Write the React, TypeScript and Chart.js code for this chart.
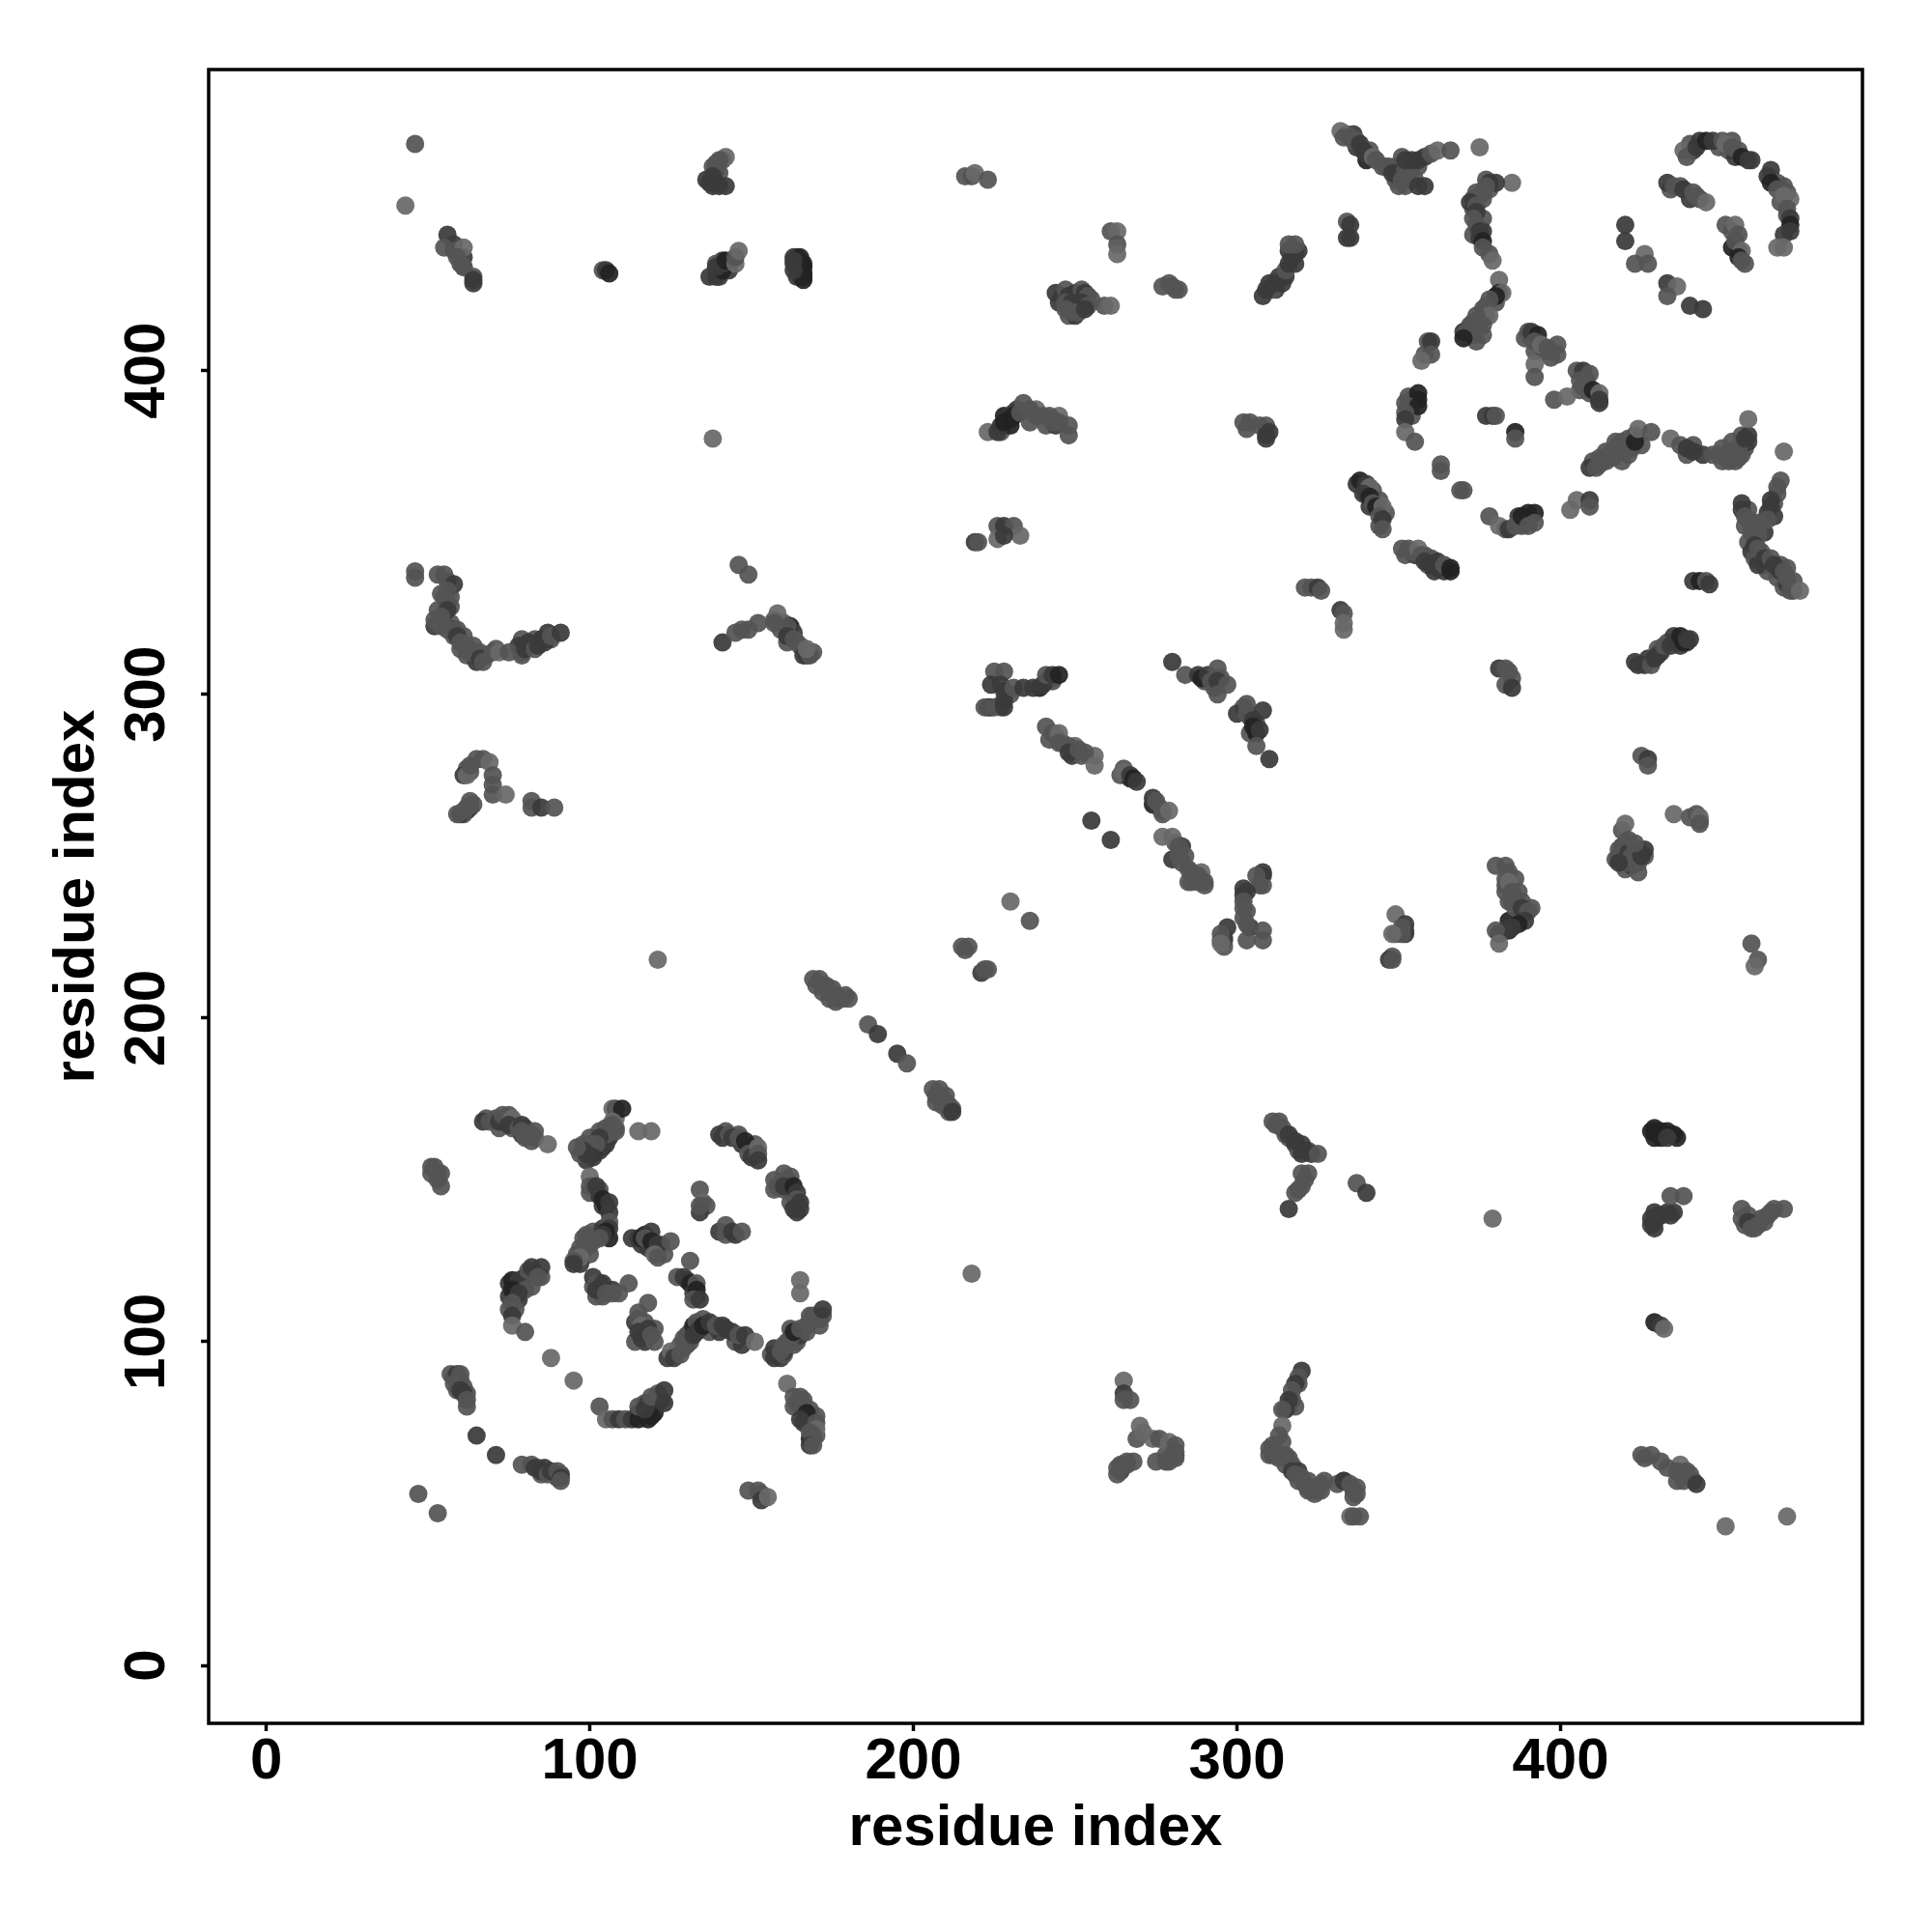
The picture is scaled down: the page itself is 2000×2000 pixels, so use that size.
import React, { useEffect, useRef } from "react";
import { Chart, registerables } from "chart.js";

Chart.register(...registerables);

type P = [number, number, number];

const axisTicks = [0, 100, 200, 300, 400];
const axisLabel = "residue index";
const shades = ["rgba(104,104,104,0.93)", "rgba(84,84,84,0.93)", "rgba(58,58,58,0.93)", "rgba(34,34,34,0.93)"];

const topLeft: P[] = [[46,470,1],[43,451,0],[56,442,2],[55,438,1],[58,437,1],[61,438,0],[59,435,1],[60,433,1],[61,432,1],[64,429,1],[64,428,2],[64,427,2],[104,431,1],[105,431,2],[106,430,3],[142,466,0],[140,465,1],[139,464,1],[138,463,1],[140,461,1],[138,460,2],[137,458,2],[139,458,2],[140,457,2],[142,457,2],[137,429,2],[139,429,2],[140,430,2],[141,431,3],[139,432,2],[141,433,2],[142,434,3],[145,433,0],[145,435,1],[146,437,0],[163,435,2],[165,435,3],[166,433,3],[165,431,3],[166,430,3],[164,429,2],[166,428,3],[163,431,2],[163,434,2],[138,379,0]];
const topMiddle: P[] = [[216,460,1],[218,460,1],[219,461,0],[223,459,1],[261,443,1],[263,443,0],[263,439,1],[263,436,0],[244,424,2],[247,425,1],[248,423,2],[250,424,2],[252,425,1],[253,424,2],[254,423,1],[247,421,1],[249,421,2],[252,421,2],[254,420,1],[247,419,1],[249,418,1],[251,418,1],[253,419,2],[259,420,1],[261,420,0],[277,426,1],[279,427,1],[280,426,1],[281,425,1],[282,425,1],[308,423,2],[309,425,2],[310,427,2],[312,427,2],[314,427,2],[315,429,2],[315,431,1],[316,433,2],[318,433,2],[317,435,2],[318,436,2],[318,439,1],[316,439,1],[334,446,1],[335,445,2],[334,441,2],[335,441,2]];
const sheetA: P[] = [[332,474,0],[333,472,1],[335,472,1],[336,471,1],[337,471,1],[338,470,2],[339,468,2],[340,467,2],[342,466,0],[343,465,1],[345,463,1],[346,463,1],[348,461,2],[350,461,2],[351,459,1],[352,462,1],[353,459,1],[355,459,1],[356,457,2],[358,457,2],[352,465,2],[354,465,2],[356,465,2],[358,466,2],[360,467,1],[362,468,0],[366,468,1],[375,469,0]];
const sheetB: P[] = [[385,458,0],[380,458,2],[378,458,2],[377,457,1],[376,455,1],[375,454,1],[373,453,1],[372,452,2],[374,451,1],[374,449,2],[373,447,1],[374,445,1],[375,443,2],[375,441,2],[376,440,3],[376,438,1],[378,436,1],[379,434,0],[381,428,0],[381,424,3],[382,424,0],[380,423,3],[378,422,1],[377,420,1],[376,419,1],[378,417,0],[374,417,1],[376,414,1],[371,412,1],[370,410,3],[376,411,1]];
const ringRight: P[] = [[359,409,1],[360,409,2],[360,405,1],[357,403,0],[353,392,1],[356,393,3],[356,391,3],[353,389,1],[356,389,3],[352,387,1],[352,385,2],[352,381,0],[355,378,1],[363,371,1],[363,369,1],[369,363,1],[370,363,1],[378,355,1],[381,352,0],[384,351,2],[386,352,1],[388,352,1],[388,355,3],[390,356,3],[392,356,3],[392,353,1],[390,352,1],[403,357,0],[405,360,0],[409,360,2],[409,358,1],[390,412,1],[391,412,2],[393,411,3],[392,409,1],[394,408,0],[396,407,1],[399,408,1],[399,405,1],[392,402,0],[392,398,1],[405,400,1],[407,400,2],[409,399,1],[406,397,1],[407,395,1],[409,393,1],[410,394,3],[412,393,0],[412,391,2],[412,390,2],[398,391,1],[402,392,0],[377,386,2],[379,386,2],[380,386,1],[386,381,3],[386,379,1]];
const winding: P[] = [[409,370,2],[411,370,1],[412,371,1],[412,373,1],[414,375,1],[415,374,1],[416,375,1],[418,375,1],[418,377,1],[420,376,1],[421,379,1],[423,378,3],[424,382,0],[428,381,1],[434,379,0],[437,377,1],[439,376,2],[441,375,2],[444,374,2],[447,374,1],[449,374,1],[451,373,1],[452,372,1],[453,374,1],[454,375,1],[455,376,1],[456,378,1],[457,379,2],[458,380,2],[458,385,0],[469,375,0]];
const sheetC: P[] = [[338,366,3],[340,365,2],[341,364,0],[339,362,2],[341,361,3],[342,359,1],[343,358,3],[345,358,0],[344,355,1],[345,354,2],[345,351,1],[351,345,1],[353,345,1],[354,344,1],[356,345,0],[357,343,1],[358,341,2],[360,340,2],[362,341,2],[362,339,2],[364,340,1],[366,339,3],[366,338,3],[321,333,1],[323,333,1],[325,333,2],[326,332,1],[332,326,2],[333,325,1],[333,322,0],[333,320,0]];
const cornerArcs: P[] = [[438,468,0],[439,466,1],[442,469,2],[443,471,2],[445,471,3],[447,471,2],[450,471,1],[451,470,0],[453,469,1],[455,468,1],[456,466,3],[458,465,2],[459,465,2],[464,460,2],[465,458,3],[467,456,1],[469,454,0],[471,453,0],[470,450,1],[471,447,2],[471,445,3],[469,442,2],[471,443,2],[467,438,0],[469,438,0],[433,458,2],[435,457,1],[437,457,1],[438,456,2],[441,455,1],[442,454,1],[445,452,0],[451,445,1],[454,445,0],[455,442,1],[454,440,1],[456,437,0],[455,435,3],[457,433,1],[456,434,1],[420,445,2],[420,440,2],[426,436,0],[423,433,1],[427,433,1],[433,427,2],[436,426,0],[433,423,1],[440,420,2],[444,419,2]];
const rightCross: P[] = [[468,366,1],[467,364,1],[467,362,1],[465,360,2],[465,358,2],[466,355,2],[464,354,1],[456,359,2],[456,357,2],[457,355,1],[458,354,1],[459,352,1],[462,353,1],[461,351,1],[461,349,1],[460,346,2],[461,345,1],[462,344,1],[463,342,2],[465,342,1],[466,340,2],[468,338,2],[469,338,1],[470,336,1],[472,335,1],[471,332,1],[474,332,0],[441,335,2],[443,335,3],[445,335,1],[446,334,2],[424,309,2],[426,309,2],[428,309,1],[429,311,2],[430,312,2],[431,313,2],[432,315,1],[434,315,2],[436,316,2],[438,316,3],[437,318,3],[439,317,2],[440,317,2]];
const midUpper: P[] = [[223,381,0],[226,381,2],[227,383,2],[228,384,3],[230,385,3],[231,386,3],[233,387,1],[234,390,1],[236,388,1],[238,386,1],[240,386,1],[242,386,1],[243,384,1],[245,384,1],[248,383,1],[248,380,1],[302,384,1],[304,384,1],[307,383,1],[309,383,1],[310,381,2],[309,380,2],[219,347,2],[220,347,1],[226,352,1],[228,352,2],[231,352,1],[226,348,0],[233,349,0],[228,349,2]];
const leftMiddle: P[] = [[46,338,1],[46,336,1],[53,337,1],[55,337,1],[56,335,1],[58,334,2],[56,332,1],[56,328,1],[56,326,2],[54,324,1],[52,323,1],[53,322,1],[54,321,1],[56,320,1],[58,318,1],[59,318,2],[60,316,1],[62,315,1],[63,313,1],[65,312,1],[66,311,2],[67,310,1],[70,313,1],[72,313,0],[75,313,1],[79,312,1],[80,314,2],[81,316,2],[83,314,1],[84,315,2],[86,316,2],[88,318,1],[91,319,2],[146,340,1],[149,337,1],[141,316,2],[145,319,1],[147,320,1],[149,320,1],[152,322,1],[158,325,0],[157,322,1],[159,320,1],[161,321,1],[161,318,2],[163,317,1],[165,315,1],[166,312,2],[168,312,1],[167,314,0],[62,275,0],[63,278,1],[65,280,1],[67,280,1],[69,279,0],[70,275,1],[70,272,1],[70,269,1],[74,269,0],[59,263,1],[61,264,1],[62,265,1],[63,267,1],[64,266,1],[82,267,1],[82,265,1],[85,265,2],[89,265,1]];
const midDiagonal: P[] = [[241,290,1],[243,288,1],[242,286,1],[245,288,0],[245,285,1],[248,284,1],[248,282,2],[251,283,1],[253,282,1],[256,278,0],[265,277,1],[265,276,0],[267,275,2],[268,274,3],[269,273,2],[274,268,2],[275,267,1],[277,264,1],[279,264,0],[277,256,0],[280,256,0],[282,253,1],[282,250,1],[283,248,1],[285,246,1],[286,245,1],[285,242,1],[288,242,1],[290,241,1],[255,261,2],[261,255,2],[225,307,1],[228,307,1],[224,303,2],[227,303,2],[228,301,2],[222,296,1],[225,296,1],[228,296,2],[228,298,2],[231,302,1],[234,302,2],[237,302,2],[240,303,2],[241,306,1],[243,306,2],[245,306,3],[280,310,2],[284,306,1],[288,306,2],[289,305,3],[291,306,2],[292,304,1],[294,308,1],[294,304,2],[297,303,1],[294,300,1],[300,294,2],[303,297,1],[303,294,1],[305,292,2],[305,290,3],[307,289,2],[308,295,2],[306,284,1],[310,280,2]];
const rightMiddle: P[] = [[381,308,2],[383,308,1],[384,307,1],[385,305,1],[383,303,1],[385,302,2],[425,281,1],[427,280,2],[427,278,1],[420,260,0],[418,252,1],[420,254,1],[421,255,1],[418,250,1],[421,251,2],[422,250,1],[420,248,1],[418,248,2],[424,248,1],[424,245,1],[425,250,2],[426,252,2],[423,254,1],[435,263,0],[440,262,1],[442,263,1],[443,262,0],[443,260,1],[380,247,1],[383,247,1],[384,245,1],[386,243,1],[384,242,0],[385,239,1],[387,239,1],[385,236,1],[388,236,1],[386,234,1],[388,234,2],[390,233,1],[389,230,2],[387,229,3],[385,228,2],[383,227,2],[381,226,2],[380,227,1],[381,223,0],[349,232,0],[352,229,2],[351,228,1],[351,226,1],[348,226,0],[347,218,2],[348,218,1],[308,245,2],[306,244,1],[307,241,1],[303,239,2],[302,236,1],[302,234,1],[302,231,1],[303,229,1],[297,228,2],[295,226,1],[295,223,0],[303,224,1],[308,227,1],[308,224,1],[459,223,1],[461,218,1],[460,216,0]];
const mainDiagonal: P[] = [[230,236,0],[236,230,1],[215,222,1],[217,222,1],[216,221,1],[221,214,2],[222,215,1],[223,215,1],[169,212,1],[171,212,1],[172,210,1],[173,210,1],[174,208,1],[175,209,1],[176,207,1],[177,206,1],[179,207,1],[180,206,1],[186,198,1],[189,195,2],[195,189,2],[198,186,1],[206,178,1],[207,176,1],[208,176,1],[209,175,1],[210,174,1],[211,173,1],[212,172,1],[212,171,2],[121,218,0],[218,121,0]];
const lowerLeftTop: P[] = [[67,168,2],[69,168,1],[71,169,1],[72,168,2],[73,170,1],[75,170,1],[76,169,0],[75,167,2],[78,166,1],[79,167,2],[79,165,1],[80,163,1],[82,164,1],[83,165,1],[83,163,1],[87,161,0],[107,172,0],[108,172,1],[110,172,3],[107,168,0],[107,167,1],[105,166,1],[105,164,1],[103,165,1],[103,163,2],[102,161,1],[100,161,1],[98,161,1],[98,159,2],[97,158,1],[99,158,2],[101,157,2],[96,160,1],[115,165,0],[119,165,0],[140,164,2],[141,163,2],[143,164,1],[144,163,2],[146,163,1],[148,162,3],[149,158,1],[150,157,2],[152,160,0],[152,158,1],[152,156,2],[157,150,1],[158,148,1],[160,152,1],[162,151,1],[160,148,2],[163,148,3],[164,146,2],[164,144,1],[163,141,2],[164,140,2],[165,143,2],[134,147,1],[135,143,0],[136,142,1],[134,140,2],[134,142,1],[140,134,2],[142,136,1],[142,133,1],[144,134,2],[145,133,2],[147,134,1],[51,152,1],[52,154,1],[54,152,1],[53,150,1],[54,148,1]];
const lowerLeftCore: P[] = [[100,151,0],[100,148,1],[102,148,2],[103,145,2],[104,144,3],[106,143,2],[106,140,2],[106,137,1],[106,135,2],[105,134,3],[104,133,2],[103,132,1],[101,131,1],[100,130,1],[99,130,1],[98,128,1],[97,126,0],[95,125,1],[95,124,2],[113,132,2],[115,132,2],[116,132,3],[117,132,1],[119,131,3],[121,130,2],[120,127,0],[121,126,1],[125,131,1],[131,125,1],[127,120,1],[129,120,2],[130,119,2],[131,118,3],[133,118,1],[132,115,2],[133,116,3],[133,114,3],[132,113,1],[134,113,2],[165,119,0],[165,115,0],[101,120,2],[102,118,1],[104,118,2],[102,116,2],[105,115,1],[107,115,1],[109,115,1],[112,118,1],[118,112,1],[115,109,1],[115,107,1],[116,105,0],[115,103,2],[116,101,2],[118,104,2],[119,102,1],[120,100,1]];
const lowerLeftArch: P[] = [[124,95,2],[125,97,0],[126,95,2],[128,96,1],[129,98,1],[130,99,1],[131,100,1],[132,102,2],[133,103,2],[134,104,2],[135,105,3],[137,106,2],[139,105,1],[141,105,2],[142,104,2],[144,103,2],[146,102,1],[148,102,2],[151,100,0],[157,98,2],[159,97,1],[160,99,1],[161,100,1],[162,101,1],[163,103,3],[165,104,1],[167,105,1],[168,106,1],[171,107,1],[172,110,2],[76,119,3],[78,119,2],[81,122,1],[82,123,2],[85,123,2],[84,120,1],[82,117,1],[80,116,1],[76,116,3],[78,115,2],[76,112,1],[76,108,2],[76,105,0],[80,103,1],[88,95,0],[95,88,0]];
const lowerLeftBottom: P[] = [[103,80,1],[105,76,0],[107,76,1],[109,76,2],[111,76,1],[113,76,2],[115,76,3],[118,76,3],[119,77,3],[115,80,1],[117,79,2],[118,81,2],[119,83,1],[121,84,1],[123,85,2],[123,81,2],[57,90,1],[59,90,2],[60,90,1],[58,87,1],[60,85,2],[61,84,2],[62,82,1],[62,80,1],[65,71,2],[71,65,2],[79,62,1],[82,62,1],[83,61,2],[85,60,2],[87,59,1],[88,60,2],[90,60,1],[91,58,2],[91,57,1],[161,87,0],[163,83,1],[165,83,1],[163,80,1],[166,80,1],[167,78,3],[165,76,2],[166,75,2],[170,75,1],[170,73,0],[168,72,1],[169,71,1],[169,70,1],[168,68,2],[169,68,1],[149,54,1],[152,54,1],[153,53,1],[153,51,2],[155,52,0],[47,53,1],[53,47,1]];
const lowerRight: P[] = [[311,168,1],[313,168,1],[314,166,1],[316,164,2],[318,162,2],[320,161,2],[321,159,2],[323,158,2],[325,158,1],[322,152,1],[320,152,1],[320,148,1],[318,146,1],[316,141,2],[337,149,1],[340,146,2],[379,138,0],[428,165,3],[429,166,3],[431,165,3],[433,165,3],[429,163,3],[435,164,3],[436,163,3],[433,163,2],[428,138,2],[428,136,2],[431,139,2],[433,140,2],[434,139,2],[434,145,1],[438,145,1],[429,140,2],[456,141,1],[456,138,1],[458,137,2],[459,135,1],[461,136,1],[463,137,1],[464,139,1],[466,141,1],[469,141,1],[429,106,3],[431,105,2],[432,104,0],[425,65,1],[428,65,1],[431,63,1],[433,61,1],[436,60,1],[439,60,1],[438,57,1],[440,59,1],[442,56,2],[451,43,0],[470,46,0]];
const lowerMiddle: P[] = [[265,88,0],[265,84,2],[265,82,1],[267,82,1],[263,59,1],[263,61,1],[264,62,1],[266,62,1],[268,63,1],[270,74,0],[269,70,1],[271,72,0],[274,70,0],[276,70,1],[279,69,0],[281,68,1],[275,63,1],[278,63,1],[280,65,1],[281,64,1],[281,66,1],[320,91,2],[319,89,1],[318,87,2],[317,85,1],[316,82,2],[314,79,1],[314,74,0],[313,71,1],[314,69,1],[310,67,1],[312,66,1],[313,64,1],[315,62,1],[317,60,2],[318,59,1],[319,57,1],[321,56,1],[322,54,1],[324,53,1],[326,54,1],[327,57,1],[331,56,1],[333,57,2],[335,56,1],[336,54,1],[336,52,1],[336,46,1],[338,46,1]];

const underTopLeft: P[] = [[58,439,2],[61,435,2],[61,432,1],[141,465,1],[139,462,2],[136,459,2],[138,457,2],[141,434,2],[139,433,1],[143,431,2],[140,429,2],[164,435,2],[163,433,2],[166,432,3],[166,429,3],[165,429,3]];
const underLeftMiddle: P[] = [[55,330,1],[54,331,1],[57,330,1],[57,327,1],[53,326,1],[52,321,2],[55,322,1],[57,322,1],[58,320,2],[59,320,1],[61,318,1],[60,314,1],[62,312,1],[64,315,1],[66,313,1],[65,310,2],[68,312,1],[71,314,1],[79,317,1],[78,315,2],[79,313,2],[83,317,1],[85,317,2],[87,319,2],[88,317,1],[157,323,1],[160,322,1],[162,321,3],[163,319,2],[161,316,1],[164,316,1],[169,313,1],[167,312,2],[62,277,1],[63,276,1],[61,275,2],[62,264,2],[61,263,1],[60,263,2],[63,265,2]];
const underMidUpper: P[] = [[227,381,1],[228,386,3],[230,383,3],[232,388,2],[236,384,1],[238,388,0],[241,383,1],[243,385,1],[244,383,2],[245,386,0],[231,387,2],[303,382,1],[309,379,2]];
const underMidDiagonal: P[] = [[243,304,1],[241,304,2],[239,302,3],[230,300,1],[224,296,2],[223,296,3],[227,296,1],[243,305,1],[244,287,1],[246,285,1],[249,281,2],[252,281,1],[256,281,0],[250,284,0],[264,275,1],[267,274,3],[274,266,3],[276,265,2],[277,263,1],[281,254,1],[283,253,2],[280,249,2],[284,250,1],[289,245,0],[288,244,1],[286,242,0],[290,242,1],[302,296,1],[306,291,1],[304,293,2],[304,288,1],[306,288,3],[293,302,1],[295,305,1],[290,304,1]];
const underRightMiddle: P[] = [[308,244,2],[308,241,1],[302,240,2],[302,238,2],[303,233,1],[304,228,2],[296,225,1],[296,224,2],[296,222,1],[295,224,1],[349,226,1],[352,227,1],[352,226,2],[348,219,1],[383,243,1],[383,241,1],[383,239,1],[384,236,1],[388,232,1],[391,234,1],[384,230,3],[384,227,3],[419,258,1],[419,253,2],[423,251,1],[424,252,1],[420,246,1],[422,247,2],[426,250,1],[417,249,1],[443,261,1]];
const underLowerMiddle: P[] = [[265,62,2],[266,63,1],[264,60,2],[278,65,1],[279,63,1],[281,65,1],[319,87,1],[317,82,1],[316,80,2],[318,80,1],[315,79,2],[311,65,2],[310,65,1],[311,68,1],[315,65,1],[316,64,1],[317,62,1],[319,60,2],[320,58,1],[322,57,1],[322,55,2],[324,55,1],[325,54,1],[326,56,1],[333,57,3],[337,55,1],[337,53,1],[335,46,0]];
const underUpperRight: P[] = [[349,463,1],[351,466,1],[353,463,1],[353,461,2],[354,463,1],[352,457,1],[349,459,1],[350,457,1],[356,463,1],[347,463,1],[341,468,1],[336,473,2],[334,473,1],[337,469,2],[340,465,3],[378,456,1],[376,453,1],[374,455,1],[377,459,1],[373,450,1],[376,447,1],[376,443,2],[373,442,1],[380,421,1],[377,417,1],[375,415,1],[373,415,1],[372,414,1],[370,412,2],[373,411,1],[374,409,1],[354,391,1],[354,386,1],[358,405,1],[352,390,1],[392,406,1],[395,406,1],[397,406,1],[397,404,1],[408,397,1],[406,394,1],[391,410,2],[389,410,1],[383,351,1],[387,355,2]];
const underWinding: P[] = [[410,372,1],[413,372,1],[414,372,1],[416,373,1],[417,378,1],[419,378,1],[422,376,1],[421,374,1],[419,372,1],[423,380,2],[425,377,1],[452,375,1],[454,372,1],[455,373,1],[456,374,1],[457,376,1],[458,378,2],[450,376,1],[450,372,1],[453,378,1],[456,380,1],[439,374,1],[441,377,1]];
const underCorner: P[] = [[440,470,1],[441,468,2],[449,469,1],[452,468,1],[454,466,2],[453,471,1],[465,462,2],[467,458,1],[469,457,1],[470,455,1],[468,452,1],[470,448,1],[434,456,1],[440,453,2],[443,453,1],[453,443,1],[455,437,1],[453,438,3],[458,357,1],[457,352,1],[459,350,1],[461,353,1],[463,350,2],[464,356,2],[466,359,1],[461,343,1],[463,340,1],[464,338,1],[467,336,1],[468,340,1],[470,339,1],[472,332,1],[469,333,1],[470,334,2],[458,347,1],[459,344,2],[460,342,1],[461,340,2],[423,310,2],[427,311,2],[430,314,1],[433,316,1],[435,318,2],[437,315,2],[439,316,2]];
const underLowerLeft: P[] = [[104,160,1],[106,163,2],[108,166,1],[100,158,3],[99,156,2],[101,159,3],[103,159,2],[101,158,3],[105,161,2],[100,163,1],[108,169,0],[108,165,1],[100,146,1],[103,147,1],[104,142,2],[105,142,3],[103,133,1],[101,134,1],[99,133,1],[97,129,1],[96,127,1],[98,132,1],[106,132,3],[104,135,2],[100,127,1],[97,124,2],[103,118,2],[101,117,1],[102,114,1],[104,114,1],[107,116,2],[116,130,2],[118,129,2],[117,133,3],[119,134,2],[123,127,1],[122,130,1],[114,106,2],[116,103,1],[117,100,2],[114,100,1],[117,106,1],[120,104,1]];
const underArch: P[] = [[127,97,1],[128,99,1],[129,101,1],[130,102,1],[131,103,1],[132,105,3],[133,106,1],[135,107,1],[136,105,2],[137,103,1],[140,103,2],[145,100,1],[147,99,2],[156,96,1],[157,95,2],[159,95,2],[160,96,1],[160,97,2],[163,101,1],[162,104,1],[163,99,1],[164,100,1],[165,102,2],[167,103,1],[169,108,1],[172,108,1],[171,105,1],[168,108,1],[75,118,2],[75,114,2],[77,114,3],[79,117,2],[83,121,2],[85,120,1],[80,120,3],[78,113,2],[75,110,1],[77,110,1],[68,169,1],[72,166,1],[74,168,1],[76,166,1],[80,166,1],[82,162,1],[79,164,2],[142,165,1],[147,161,2],[146,164,1],[150,160,1],[151,161,1],[159,149,1],[161,150,2],[163,145,1],[165,141,2],[162,143,1],[157,147,1],[160,147,1]];
const underBottom: P[] = [[115,78,3],[120,78,3],[121,83,2],[121,81,2],[117,81,1],[120,80,2],[122,82,2],[164,81,2],[166,82,1],[168,79,1],[170,77,1],[168,74,1],[170,71,1],[168,70,3],[84,61,1],[86,61,2],[90,58,2],[91,59,2],[85,59,1],[58,89,1],[60,88,1],[61,86,1],[62,84,1],[59,85,1],[312,167,1],[315,164,1],[316,163,1],[318,161,2],[319,159,1],[320,158,2],[322,159,1],[321,150,1],[319,147,1],[429,165,3],[431,163,3],[434,164,3],[430,164,2],[429,137,2],[430,139,2],[429,135,2],[435,140,2],[457,136,1],[460,135,1],[458,139,1],[462,138,1],[465,140,1],[426,64,1],[436,57,1],[441,57,1],[437,62,0]];
const underMisc: P[] = [[337,365,2],[340,362,2],[342,363,1],[341,358,2],[344,360,1],[346,356,1],[344,352,1],[359,340,1],[358,343,1],[352,343,1],[355,343,2],[361,338,2],[364,338,2],[360,342,1],[245,421,2],[246,423,1],[251,420,2],[255,422,1],[248,417,1],[250,417,2],[313,429,2],[312,425,2],[319,437,2],[316,437,2],[311,425,1],[170,210,1],[172,208,1],[174,206,1],[176,205,1],[178,206,1],[208,178,1],[209,173,1],[210,176,1],[211,171,1],[207,174,1],[51,154,1],[53,152,1]];

const contacts: P[] = [
  ...underTopLeft, ...underLeftMiddle, ...underMidUpper, ...underMidDiagonal, ...underRightMiddle, ...underLowerMiddle,
  ...underUpperRight, ...underWinding, ...underCorner, ...underLowerLeft, ...underArch, ...underBottom, ...underMisc,
  ...topLeft, ...topMiddle, ...sheetA, ...sheetB, ...ringRight, ...winding, ...sheetC, ...cornerArcs, ...rightCross,
  ...midUpper, ...leftMiddle, ...midDiagonal, ...rightMiddle, ...mainDiagonal, ...lowerLeftTop, ...lowerLeftCore,
  ...lowerLeftArch, ...lowerLeftBottom, ...lowerRight, ...lowerMiddle,
];

const FONT = "'Liberation Sans', Arial, sans-serif";

const frame = {
  id: "frame",
  afterDatasetsDraw(chart: any) {
    const { left, top, width, height } = chart.chartArea;
    const ctx = chart.ctx;
    ctx.save();
    ctx.strokeStyle = "#000";
    ctx.lineWidth = 3.5;
    ctx.strokeRect(left, top, width, height);
    ctx.restore();
  },
};

export default function App() {
  const ref = useRef<HTMLCanvasElement>(null);
  useEffect(() => {
    document.body.style.margin = "0";
    const chart = new Chart(ref.current!, {
      type: "scatter",
      data: {
        datasets: [
          {
            label: axisLabel,
            data: contacts.map(([x, y]) => ({ x, y })),
            pointRadius: 9.5,
            pointBorderWidth: 0,
            pointBackgroundColor: contacts.map((p) => shades[p[2]]),
          },
        ],
      },
      options: {
        responsive: false,
        animation: false,
        layout: { padding: { left: 0, top: 72, right: 72, bottom: 0 } },
        plugins: { legend: { display: false }, tooltip: { enabled: false } },
        scales: {
          x: {
            type: "linear",
            min: -17.8,
            max: 493.3,
            afterFit(s: any) { s.height = 216; },
            afterBuildTicks(s: any) { s.ticks = axisTicks.map((value) => ({ value })); },
            grid: { drawOnChartArea: false, drawTicks: true, tickLength: 8, tickWidth: 3.5, tickColor: "#000" },
            border: { display: false },
            ticks: { color: "#000", padding: -4, maxRotation: 0, font: { family: FONT, size: 60, weight: "bold" } },
            title: { display: true, text: axisLabel, color: "#000", padding: { top: 0, bottom: 71 }, font: { family: FONT, size: 60, weight: "bold" } },
          },
          y: {
            type: "linear",
            min: -17.9,
            max: 493,
            afterFit(s: any) { s.width = 216; },
            afterBuildTicks(s: any) { s.ticks = axisTicks.map((value) => ({ value })); },
            grid: { drawOnChartArea: false, drawTicks: true, tickLength: 8, tickWidth: 3.5, tickColor: "#000" },
            border: { display: false },
            ticks: { color: "#000", padding: 4, minRotation: 90, maxRotation: 90, crossAlign: "center", font: { family: FONT, size: 60, weight: "bold" } },
            title: { display: true, text: axisLabel, color: "#000", padding: { top: 44, bottom: 0 }, font: { family: FONT, size: 60, weight: "bold" } },
          },
        },
      },
      plugins: [frame],
    } as any);
    return () => chart.destroy();
  }, []);
  return <canvas ref={ref} width={2000} height={2000} style={{ display: "block", width: 2000, height: 2000 }} />;
}
